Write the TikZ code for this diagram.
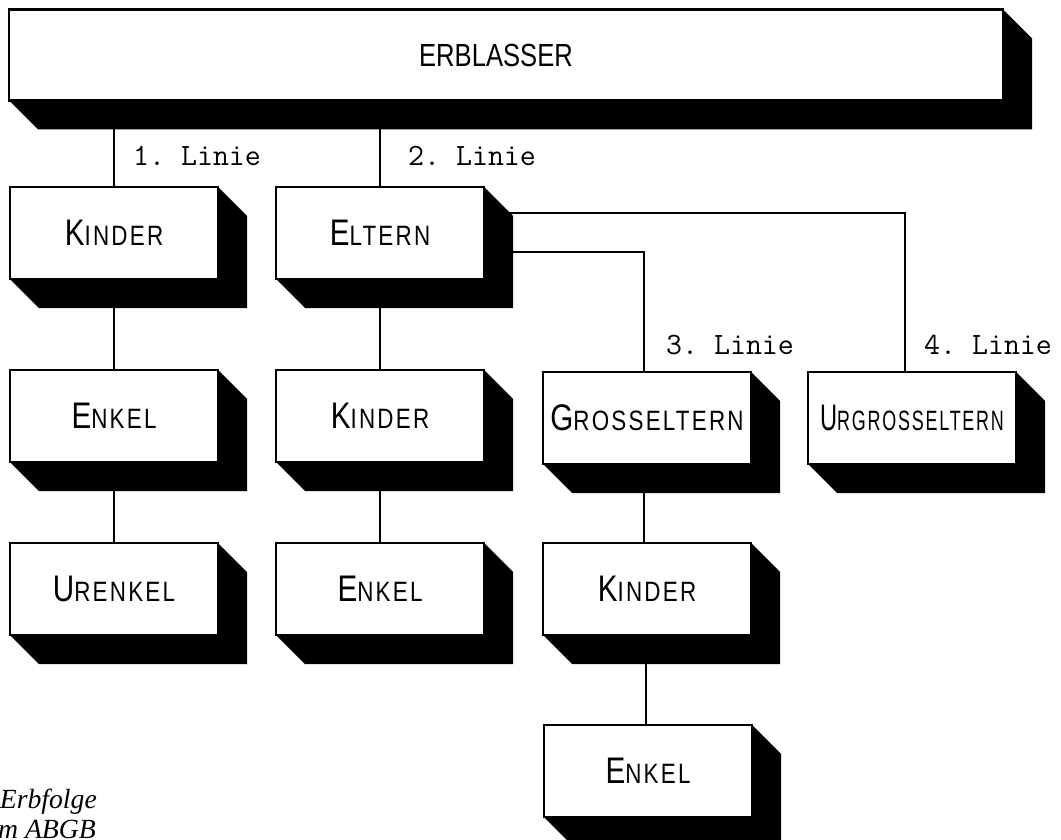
\documentclass[tikz,border=0pt]{standalone}
\usepackage{fontspec}
\setmainfont{Liberation Serif}
\setmonofont{Latin Modern Mono}
\newfontfamily\capsfont[FakeStretch=0.8,LetterSpace=8]{Liberation Sans}
\newfontfamily\titlefont[FakeStretch=0.8]{Liberation Sans}
\usetikzlibrary{calc,backgrounds}

% label with a tall initial and smaller capitals after it
\newcommand\capslbl[2]{{\capsfont\fontsize{37}{37}\selectfont #1}{\capsfont\fontsize{28}{28}\selectfont #2}}

\begin{document}
\begin{tikzpicture}[x=1pt,y=-1pt,
  blk/.style={draw, fill=white, line width=2.6pt, minimum width=208pt,
              minimum height=92pt, inner sep=0pt, outer sep=0pt},
  conn/.style={line width=2.6pt},
  linelbl/.style={font=\ttfamily\fontsize{31}{31}\selectfont,
                  anchor=base west, inner sep=0pt},
  caption/.style={font=\itshape\fontsize{27.7}{27.7}\selectfont,
                  anchor=base east, inner sep=0pt}]
\useasboundingbox (0,0) rectangle (1061,840);

% testator
\node[blk, minimum width=994pt, minimum height=91pt] (erb) at (506,55)
  {\titlefont\fontsize{32}{32}\selectfont\hspace*{-20pt}ERBLASSER};

% column 1: descendants
\node[blk] (k1)  at (114,233) {\capslbl{K}{INDER}};
\node[blk] (e1)  at (114,416) {\capslbl{E}{NKEL}};
\node[blk] (u1)  at (114,589) {\capslbl{U}{RENKEL}};

% column 2: parents and their descendants
\node[blk] (el)  at (380,233) {\capslbl{E}{LTERN}};
\node[blk] (k2)  at (380,416) {\capslbl{K}{INDER}};
\node[blk] (e2)  at (380,589) {\capslbl{E}{NKEL}};

% column 3: grandparents and their descendants
\node[blk] (gr)  at (647,418) {\capslbl{G}{ROSSELTERN}};
\node[blk] (k3)  at (647,589) {\capslbl{K}{INDER}};
\node[blk] (e3)  at (648,771) {\capslbl{E}{NKEL}};

% column 4: great-grandparents
\node[blk] (ug)  at (912,418) {\scalebox{0.8}[1]{\capslbl{U}{RGROSSELTERN}}};

% block shadows and connectors, kept behind the blocks
\begin{scope}[on background layer]
  \foreach \n in {erb,k1,e1,u1,el,k2,e2,gr,k3,e3,ug}{
    \fill (\n.north east) -- ++(29,29) -- ($(\n.south east)+(29,29)$)
          -- ($(\n.south west)+(29,29)$) -- (\n.south west) -- cycle;
  }
  \draw[conn] (k1.north) -- (k1.north |- erb.south);
  \draw[conn] (el.north) -- (el.north |- erb.south);
  \draw[conn] (k1.south) -- (e1.north);
  \draw[conn] (e1.south) -- (u1.north);
  \draw[conn] (el.south) -- (k2.north);
  \draw[conn] (k2.south) -- (e2.north);
  \draw[conn] ([yshift=-19pt]el.east) -| ([xshift=-3pt]gr.north);
  \draw[conn] ([yshift=20pt]el.east) -| ([xshift=-7pt]ug.north);
  \draw[conn] ([xshift=-3pt]gr.south) -- ([xshift=-3pt]k3.north);
  \draw[conn] ([xshift=-1pt]k3.south) -- ([xshift=-2pt]e3.north);
\end{scope}

% line labels
\node[linelbl] (l1) at (133,166) {1. Linie};
\node[linelbl] (l2) at (408,166) {2. Linie};
\node[linelbl] (l3) at (666,354) {3. Linie};
\node[linelbl] (l4) at (924,354) {4. Linie};

% caption
\node[caption] (c1) at (97,808) {Erbfolge};
\node[caption] (c2) at (96,838) {m ABGB};
\end{tikzpicture}
\end{document}
